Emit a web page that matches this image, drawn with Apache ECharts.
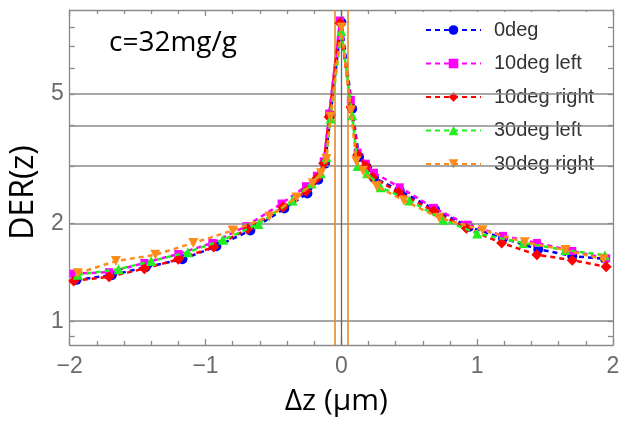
<!DOCTYPE html>
<html><head><meta charset="utf-8">
<script src="https://cdn.jsdelivr.net/npm/echarts@6/dist/echarts.min.js"></script>
<style>html,body{margin:0;padding:0;background:#fff}#c{width:629px;height:427px}</style>
</head><body><div id="c"></div>
<script>
// Series data (x in µm, y = DER(z))
var names = ['0deg', '10deg left', '10deg right', '30deg left', '30deg right'];
var x0 = [-1.95,-1.69,-1.44,-1.17,-0.92,-0.67,-0.42,-0.25,-0.17,-0.12,-0.08,0.0,0.08,0.13,0.19,0.24,0.43,0.69,0.94,1.19,1.45,1.70,1.94];
var y0 = [1.34,1.385,1.466,1.55,1.70,1.90,2.22,2.47,2.72,3.05,4.30,8.3,4.5,3.2,2.97,2.76,2.52,2.20,1.95,1.80,1.665,1.585,1.555];
var x10L = [-1.97,-1.71,-1.45,-1.20,-0.95,-0.70,-0.44,-0.26,-0.18,-0.13,-0.09,-0.01,0.07,0.12,0.18,0.24,0.43,0.68,0.93,1.19,1.44,1.70,1.95];
var y10L = [1.40,1.415,1.51,1.61,1.74,1.96,2.30,2.60,2.80,3.10,4.35,8.4,4.79,3.3,3.05,2.86,2.58,2.23,1.98,1.83,1.74,1.645,1.56];
var x10R = [-1.97,-1.71,-1.45,-1.20,-0.94,-0.69,-0.43,-0.26,-0.18,-0.13,-0.09,-0.01,0.07,0.12,0.18,0.23,0.42,0.68,0.92,1.18,1.44,1.70,1.95];
var y10R = [1.33,1.37,1.45,1.55,1.69,1.92,2.24,2.51,2.75,3.06,4.24,8.26,4.55,3.24,3.00,2.77,2.49,2.18,1.93,1.74,1.60,1.54,1.47];
var x30L = [-1.94,-1.64,-1.40,-1.13,-0.87,-0.61,-0.36,-0.22,-0.15,-0.11,-0.08,0.0,0.08,0.12,0.19,0.29,0.50,0.75,1.00,1.34,1.65,1.94];
var y30L = [1.39,1.445,1.53,1.63,1.78,1.99,2.35,2.65,2.85,3.2,4.2,7.8,4.3,3.0,2.85,2.58,2.35,2.05,1.86,1.74,1.654,1.596];
var x30R = [-1.94,-1.66,-1.37,-1.09,-0.80,-0.53,-0.33,-0.21,-0.15,-0.11,-0.08,0.0,0.07,0.11,0.16,0.26,0.46,0.72,1.04,1.35,1.65,1.93];
var y30R = [1.405,1.53,1.60,1.74,1.90,2.10,2.40,2.65,2.85,3.15,4.25,8.0,4.45,3.1,2.9,2.6,2.35,2.08,1.905,1.75,1.654,1.55];
var xTicks = [-2, -1, 0, 1, 2];
var yLabels = [1, 2, 5];
var yGrid = [1, 2, 3, 4, 5];
var yTicks = [0.9, 1, 2, 3, 4, 5, 6, 7, 8];
var vGray = [0];
var vOrange = [-0.05, 0.05];
var annotation = 'c=32mg/g';

function pairs(xs, ys) { return xs.map(function (x, i) { return [x, ys[i]]; }); }
var colors = ['#0000ff', '#ff00ff', '#ff0000', '#22ee22', '#ff8c1a'];
var symbols = ['circle', 'rect', 'diamond', 'triangle', 'triangle'];
var sizes = [10, 8, 11, 10, 10];
var rot = [0, 0, 0, 0, 180];
var allData = [pairs(x0, y0), pairs(x10L, y10L), pairs(x10R, y10R), pairs(x30L, y30L), pairs(x30R, y30R)];

var series = [{
  type: 'line', data: [], silent: true, z: 1,
  markLine: {
    silent: true, symbol: 'none', animation: false, label: { show: false },
    data: yGrid.map(function (v) { return { yAxis: v, lineStyle: { color: '#8a8a8a', width: 1.5, type: 'solid' } }; })
      .concat(vGray.map(function (v) { return { xAxis: v, lineStyle: { color: '#666', width: 1.3, type: 'solid' } }; }))
      .concat(vOrange.map(function (v) { return { xAxis: v, lineStyle: { color: '#e8892b', width: 1.6, type: 'solid' } }; }))
  }
}];
names.forEach(function (n, i) {
  series.push({
    name: n, type: 'line', data: allData[i], z: 3 + i,
    symbol: symbols[i], symbolSize: sizes[i], symbolRotate: rot[i],
    itemStyle: { color: colors[i] },
    lineStyle: { color: colors[i], width: 2.5, type: [5, 4] }
  });
});

var axisLineStyle = { color: '#8a8a8a', width: 1.3 };
var labelFont = { color: '#6b6b6b', fontSize: 23, fontFamily: 'Liberation Sans' };
var chart = echarts.init(document.getElementById('c'), null, { renderer: 'canvas' });
chart.setOption({
  animation: false,
  backgroundColor: '#fff',
  grid: { left: 68, right: 16, top: 10, bottom: 82, containLabel: false },
  xAxis: [{
    type: 'value', min: -2, max: 2, interval: 1, position: 'bottom',
    name: 'Δz (μm)', nameLocation: 'middle', nameGap: 41,
    nameTextStyle: { fontSize: 30, color: '#000', fontFamily: 'Open Sans', padding: [0, 10, 0, 0] },
    axisLine: { show: true, onZero: false, lineStyle: axisLineStyle },
    axisTick: { show: true, inside: true, length: 6, lineStyle: axisLineStyle },
    minorTick: { show: true, splitNumber: 5, length: 4, lineStyle: axisLineStyle },
    splitLine: { show: false },
    axisLabel: Object.assign({ margin: 10, formatter: function (v) { return String(v).replace('-', '\u2212'); } }, labelFont)
  }, {
    type: 'value', min: -2, max: 2, interval: 1, position: 'top',
    axisLine: { show: true, onZero: false, lineStyle: axisLineStyle },
    axisTick: { show: true, inside: true, length: 6, lineStyle: axisLineStyle },
    minorTick: { show: true, splitNumber: 5, length: 4, lineStyle: axisLineStyle },
    splitLine: { show: false }, axisLabel: { show: false }
  }],
  yAxis: [{
    type: 'log', min: 0.845, max: 9.05, position: 'left',
    name: 'DER(z)', nameLocation: 'middle', nameGap: 25, nameRotate: 90,
    nameTextStyle: { fontSize: 32, color: '#000', fontFamily: 'Open Sans', padding: [0, 30, 0, 0] },
    axisLine: { show: true, onZero: false, lineStyle: axisLineStyle },
    axisTick: { show: true, inside: true, length: 5, customValues: yTicks, lineStyle: axisLineStyle },
    splitLine: { show: false },
    axisLabel: Object.assign({ margin: 6, customValues: yLabels }, labelFont)
  }, {
    type: 'log', min: 0.845, max: 9.05, position: 'right',
    axisLine: { show: true, onZero: false, lineStyle: axisLineStyle },
    axisTick: { show: true, inside: true, length: 5, customValues: yTicks, lineStyle: axisLineStyle },
    splitLine: { show: false }, axisLabel: { show: false }
  }],
  legend: {
    data: names, orient: 'vertical', left: 417, top: 12,
    backgroundColor: '#fff', padding: [8, 8, 8, 8],
    itemWidth: 55, itemHeight: 12, itemGap: 13.5,
    textStyle: { fontSize: 20, color: '#333', fontFamily: 'Liberation Sans', padding: [0, 0, 0, 8] }
  },
  graphic: [{
    type: 'text', left: 109, top: 29,
    style: { text: annotation, fontSize: 28, fill: '#000', fontFamily: 'Open Sans' }
  }],
  series: series
});
</script></body></html>
